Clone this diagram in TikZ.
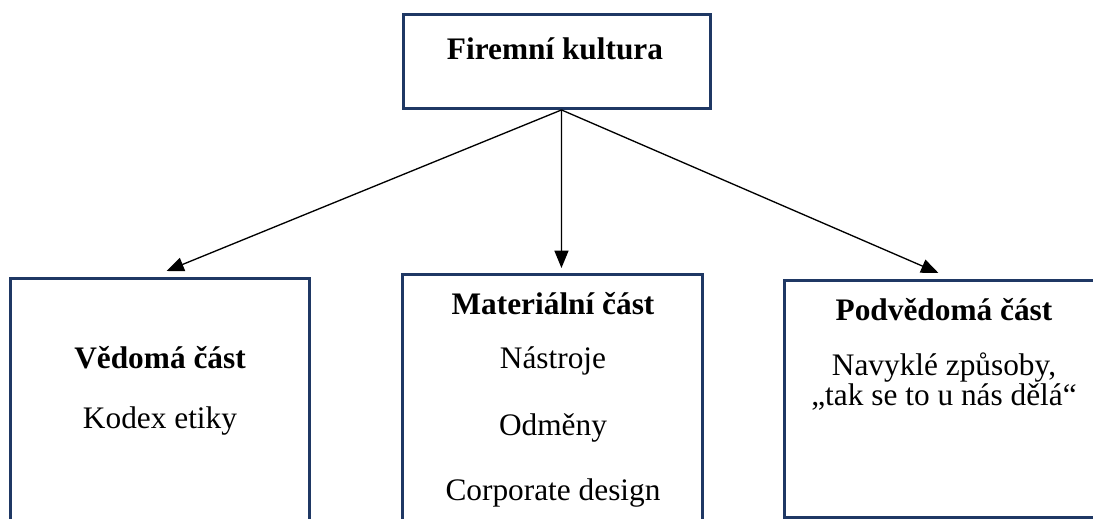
\documentclass[tikz,border=0pt]{standalone}
\usepackage{fontspec}
\setmainfont{Liberation Serif}
\usetikzlibrary{arrows.meta,positioning}
\definecolor{boxnavy}{HTML}{1F3864}
\def\px{0.75pt}

\begin{document}
\begin{tikzpicture}[x=0.75pt, y=-0.75pt,
    part/.style={draw=boxnavy, line width=2.2pt, inner sep=0pt, anchor=north west},
    txt/.style={font=\fontsize{23.5}{28}\selectfont, anchor=base, inner sep=0pt},
    hdr/.style={font=\fontsize{23.5}{28}\selectfont\bfseries, anchor=base, inner sep=0pt},
    link/.style={line width=1pt, -{Triangle[length=13pt,width=10.5pt]}}]

\useasboundingbox (0,0) rectangle (1093,518);
\clip (0,0) rectangle (1093,518);

% Boxes
\node[part, minimum width=307*\px, minimum height=94*\px]  (firma)     at (402,13)  {};
\node[part, minimum width=299*\px, minimum height=300*\px] (vedoma)    at (9,277)   {};
\node[part, minimum width=300*\px, minimum height=300*\px] (material)  at (401,273) {};
\node[part, minimum width=330*\px, minimum height=237*\px] (podvedoma) at (783,279) {};

% Top label
\node[hdr] (firma-t) at (555,59) {Firemní kultura};

% Left part
\node[hdr] (vedoma-t) at (160,368) {Vědomá část};
\node[txt] (vedoma-1) at (160,428) {Kodex etiky};

% Middle part
\node[hdr] (material-t) at (553,314) {Materiální část};
\node[txt] (material-1) at (553,368) {Nástroje};
\node[txt] (material-2) at (553,435) {Odměny};
\node[txt] (material-3) at (553,500) {Corporate design};

% Right part
\node[hdr] (podvedoma-t) at (944,320) {Podvědomá část};
\node[txt] (podvedoma-1) at (944,375) {Navyklé způsoby,};
\node[txt] (podvedoma-2) at (944,405) {„tak se to u nás dělá“};

% Connectors
\coordinate (apex) at ([xshift=3.4pt]firma.south);
\draw[link] (apex) -- ([xshift=4.9pt,yshift=4.5pt]vedoma.north);
\draw[link] (apex) -- ([xshift=6.75pt,yshift=3.75pt]material.north);
\draw[link] (apex) -- ([xshift=-8.25pt,yshift=4.5pt]podvedoma.north);

\end{tikzpicture}
\end{document}
